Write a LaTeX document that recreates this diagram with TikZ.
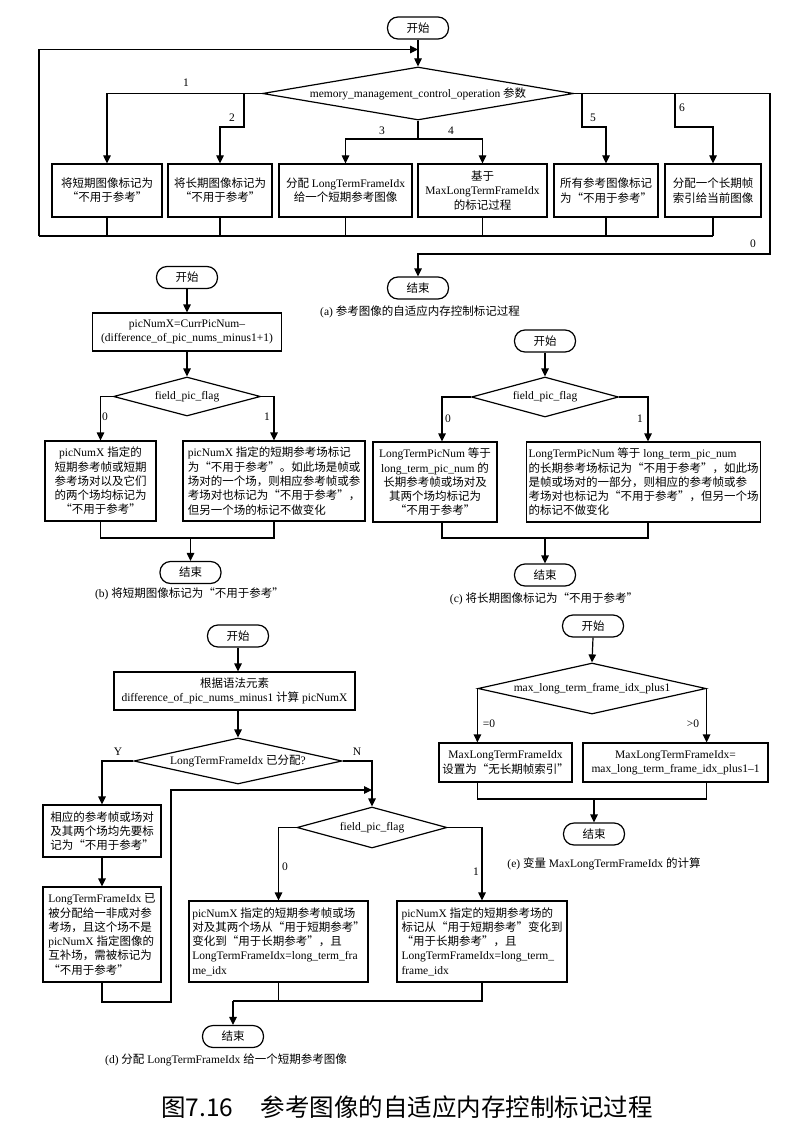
\documentclass[tikz,border=0pt]{standalone}
\usepackage{fontspec}
\setmainfont{Liberation Serif}
\newfontfamily\cjkfont{Noto Sans CJK SC}
\usetikzlibrary{arrows.meta,shapes.geometric}

% switch to the CJK family automatically for ideographs and CJK punctuation
\newXeTeXintercharclass\CJKclass
\newcount\cjkcode
\def\setcjkrange#1#2{%
  \cjkcode=#1\relax
  \loop
    \XeTeXcharclass\cjkcode=\CJKclass
  \ifnum\cjkcode<#2\relax
    \advance\cjkcode by 1
  \repeat}
\setcjkrange{"3000}{"303F}
\setcjkrange{"4E00}{"9FFF}
\setcjkrange{"FF00}{"FFEF}
\setcjkrange{"201C}{"201D}
\XeTeXinterchartoks 0 \CJKclass = {\cjkfont}
\XeTeXinterchartoks 4095 \CJKclass = {\cjkfont}
\XeTeXinterchartoks \CJKclass 0 = {\rmfamily}
\XeTeXinterchartoks \CJKclass 4095 = {\rmfamily}

\tikzset{
  every node/.style={font=\fontsize{11.5}{14.3}\selectfont},
  term/.style={draw, line width=1.2pt, rounded corners=10.5pt,
    minimum width=61pt, minimum height=22pt, inner sep=1pt},
  proc/.style={draw, line width=1.2pt, inner sep=2pt, align=center},
  procl/.style={proc, align=left},
  dia/.style={draw, line width=1.2pt, diamond, inner sep=0pt},
  lbl/.style={inner sep=0pt},
  arr/.style={line width=1.2pt, -{Triangle[length=8pt,width=7.5pt]}},
  ln/.style={line width=1.2pt},
}

\begin{document}
\XeTeXinterchartokenstate=1
\begin{tikzpicture}[x=1pt,y=-1pt]
\useasboundingbox[fill=white] (0,0) rectangle (810,1142);

% ---------------- (a) overall marking process ----------------
\node[term] (sa) at (418,28) {开始};
\node[dia, minimum width=311pt, minimum height=53pt] (da) at (418,93.5) {};
\node[lbl] (dat) at (da) {memory\_management\_control\_operation 参数};

\node[proc, minimum width=110pt, minimum height=53pt] (a1) at (107,190.5) {将短期图像标记为\\“不用于参考”};
\node[proc, minimum width=104pt, minimum height=53pt] (a2) at (220,190.5) {将长期图像标记为\\“不用于参考”};
\node[proc, minimum width=133pt, minimum height=53pt] (a3) at (345.5,190.5) {分配 LongTermFrameIdx\\给一个短期参考图像};
\node[proc, minimum width=129pt, minimum height=53pt] (a4) at (482.5,190.5) {基于\\MaxLongTermFrameIdx\\的标记过程};
\node[proc, minimum width=104pt, minimum height=53pt] (a5) at (606,190.5) {所有参考图像标记\\为“不用于参考”};
\node[proc, minimum width=96pt, minimum height=53pt] (a6) at (713,190.5) {分配一个长期帧\\索引给当前图像};
\node[term] (ea) at (418,288) {结束};
\node[lbl] (capa) at (420,312) {(a) 参考图像的自适应内存控制标记过程};

\coordinate (j2) at (244,93.5);
\coordinate (k2) at (244,127);
\coordinate (j34) at (418,139);
\coordinate (j5) at (582,93.5);
\coordinate (k5) at (582,127);
\coordinate (j6) at (675,93.5);
\coordinate (k6) at (675,127);
\coordinate (r1) at (770,93.5);
\coordinate (r2) at (770,254);
\coordinate (mL) at (39,236);
\coordinate (loopT) at (418,49.5);

\draw[arr] (sa.south) -- (da.north);
\draw[arr] (da.west) -| (a1.north);
\draw[arr] (j2) -- (k2) -| (a2.north);
\draw[ln] (da.south) -- (j34);
\draw[arr] (j34) -| (a3.north);
\draw[arr] (j34) -| (a4.north);
\draw[arr] (j5) -- (k5) -| (a5.north);
\draw[arr] (j6) -- (k6) -| (a6.north);
\draw[arr] (da.east) -- (r1) -- (r2) -| (ea.north);
\foreach \b in {a1,a2,a3,a4,a5,a6} \draw[ln] (\b.south) -- (\b.south |- mL);
\draw[ln] (mL) -- (a6.south |- mL);
\draw[arr] (mL) |- (loopT);

\node[lbl] (la1) at (186,83) {1};
\node[lbl] (la2) at (232,118) {2};
\node[lbl] (la3) at (382,131) {3};
\node[lbl] (la4) at (451,131) {4};
\node[lbl] (la5) at (593,118) {5};
\node[lbl] (la6) at (682,108) {6};
\node[lbl] (la0) at (753,244) {0};

% ---------------- (b) short-term picture ----------------
\node[term] (sb) at (187,277.5) {开始};
\node[proc, minimum width=189pt, minimum height=38pt] (pb) at (187,332) {picNumX=CurrPicNum–\\(difference\_of\_pic\_nums\_minus1+1)};
\node[dia, minimum width=147pt, minimum height=39pt] (db) at (187,396.5) {};
\node[lbl] (dbt) at (db) {field\_pic\_flag};
\node[proc, minimum width=111pt, minimum height=80pt] (b0) at (100.5,481) {picNumX 指定的\\短期参考帧或短期\\参考场对以及它们\\的两个场均标记为\\“不用于参考”};
\node[procl, minimum width=182pt, minimum height=80pt] (b1) at (274,481) {picNumX 指定的短期参考场标记\\为“不用于参考”。如此场是帧或\\场对的一个场，则相应参考帧或参\\考场对也标记为“不用于参考”，\\但另一个场的标记不做变化};
\node[term] (eb) at (190.5,572.5) {结束};
\node[lbl] (capb) at (189.5,594) {(b) 将短期图像标记为“不用于参考”};
\coordinate (mb) at (190.5,538);

\draw[arr] (sb.south) -- (pb.north);
\draw[arr] (pb.south) -- (db.north);
\draw[arr] (db.west) -| (b0.north);
\draw[arr] (db.east) -| (b1.north);
\draw[ln] (b0.south) |- (mb);
\draw[ln] (b1.south) |- (mb);
\draw[arr] (mb) -- (eb.north);
\node[lbl] (lb0) at (105,417) {0};
\node[lbl] (lb1) at (267,417) {1};

% ---------------- (c) long-term picture ----------------
\node[term] (sc) at (545,341) {开始};
\node[dia, minimum width=147pt, minimum height=40pt] (dc) at (545,397) {};
\node[lbl] (dct) at (dc) {field\_pic\_flag};
\node[proc, minimum width=124pt, minimum height=80pt] (c0) at (435,482) {LongTermPicNum 等于\\long\_term\_pic\_num 的\\长期参考帧或场对及\\其两个场均标记为\\“不用于参考”};
\node[procl, minimum width=233pt, minimum height=80pt] (c1) at (643.5,482) {LongTermPicNum 等于 long\_term\_pic\_num\\的长期参考场标记为“不用于参考”，如此场\\是帧或场对的一部分，则相应的参考帧或参\\考场对也标记为“不用于参考”，但另一个场\\的标记不做变化};
\node[term] (ec) at (545,575) {结束};
\node[lbl] (capc) at (544,599) {(c) 将长期图像标记为“不用于参考”};
\coordinate (mc) at (545,538);

\draw[arr] (sc.south) -- (dc.north);
\draw[arr] (dc.west) -| ([xshift=7pt]c0.north);
\draw[arr] (dc.east) -| ([xshift=4.5pt]c1.north);
\draw[ln] ([xshift=7pt]c0.south) |- (mc);
\draw[ln] ([xshift=4.5pt]c1.south) |- (mc);
\draw[arr] (mc) -- (ec.north);
\node[lbl] (lc0) at (448,419) {0};
\node[lbl] (lc1) at (640,419) {1};

% ---------------- (d) assigning LongTermFrameIdx ----------------
\node[term] (sd) at (238,636) {开始};
\node[proc, minimum width=241pt, minimum height=38pt] (pd) at (234.5,691) {根据语法元素\\difference\_of\_pic\_nums\_minus1 计算 picNumX};
\node[dia, minimum width=208pt, minimum height=46pt] (dd) at (238,761) {};
\node[lbl] (ddt) at (dd) {LongTermFrameIdx 已分配?};
\node[procl, minimum width=118pt, minimum height=52pt] (y1) at (102,831) {相应的参考帧或场对\\及其两个场均先要标\\记为“不用于参考”};
\node[procl, minimum width=118pt, minimum height=95pt] (y2) at (102,934.5) {LongTermFrameIdx 已\\被分配给一非成对参\\考场，且这个场不是\\picNumX 指定图像的\\互补场，需被标记为\\“不用于参考”};
\node[dia, minimum width=150pt, minimum height=41pt] (dd2) at (372,827.5) {};
\node[lbl] (dd2t) at (dd2) {field\_pic\_flag};
\node[procl, minimum width=179pt, minimum height=81pt] (d0) at (278.5,941.5) {picNumX 指定的短期参考帧或场\\对及其两个场从“用于短期参考”\\变化到“用于长期参考”，且\\LongTermFrameIdx=long\_term\_fra\\me\_idx};
\node[procl, minimum width=170pt, minimum height=81pt] (d1) at (482,941.5) {picNumX 指定的短期参考场的\\标记从“用于短期参考”变化到\\“用于长期参考”，且\\LongTermFrameIdx=long\_term\_\\frame\_idx};
\node[term] (ed) at (233,1036.5) {结束};
\node[lbl] (capd) at (226,1060) {(d) 分配 LongTermFrameIdx 给一个短期参考图像};
\coordinate (lp) at (171,1002);
\coordinate (lq) at (372,790);
\coordinate (md) at (233,1001);

\draw[arr] (sd.south) -- (sd.south |- pd.north);
\draw[arr] (pd.south -| dd.north) -- (dd.north);
\draw[arr] (dd.west) -| (y1.north);
\draw[arr] (y1.south) -- (y2.north);
\draw[arr] (dd.east) -| (dd2.north);
\draw[arr] (y2.south) |- (lp) |- (lq);
\draw[arr] (dd2.west) -| (d0.north);
\draw[arr] (dd2.east) -| (d1.north);
\draw[ln] (d0.south) -- (d0.south |- md);
\draw[ln] (d1.south) |- (md);
\draw[arr] (md) -- (ed.north);
\node[lbl] (ldy) at (118,752) {Y};
\node[lbl] (ldn) at (357,752) {N};
\node[lbl] (ld0) at (285,867) {0};
\node[lbl] (ld1) at (476,872) {1};

% ---------------- (e) MaxLongTermFrameIdx ----------------
\node[term] (se) at (593,626) {开始};
\node[dia, minimum width=228pt, minimum height=51pt] (de) at (592,688.5) {};
\node[lbl] (det) at (de) {max\_long\_term\_frame\_idx\_plus1};
\node[proc, minimum width=133pt, minimum height=39pt] (e0) at (505.5,762.5) {MaxLongTermFrameIdx\\设置为“无长期帧索引”};
\node[proc, minimum width=185pt, minimum height=39pt] (e1) at (675.5,762.5) {MaxLongTermFrameIdx=\\max\_long\_term\_frame\_idx\_plus1–1};
\node[term] (ee) at (594,834) {结束};
\node[lbl] (cape) at (604,864) {(e) 变量 MaxLongTermFrameIdx 的计算};
\coordinate (me) at (594,799);

\draw[arr] (se.south) -- (de.north);
\draw[arr] (de.west) -- (de.west |- e0.north);
\draw[arr] (de.east) -- (de.east |- e1.north);
\draw[ln] (de.west |- e0.south) |- (me);
\draw[ln] (de.east |- e1.south) |- (me);
\draw[arr] (me) -- (ee.north);
\node[lbl] (le0) at (489,724) {=0};
\node[lbl] (le1) at (693,724) {>0};

% ---------------- figure title ----------------
\node[lbl] (fig) at (407,1107) {\XeTeXinterchartokenstate=0 \cjkfont\fontsize{24.5}{28}\selectfont 图7.16\hspace{27pt}参考图像的自适应内存控制标记过程};
\end{tikzpicture}
\end{document}
